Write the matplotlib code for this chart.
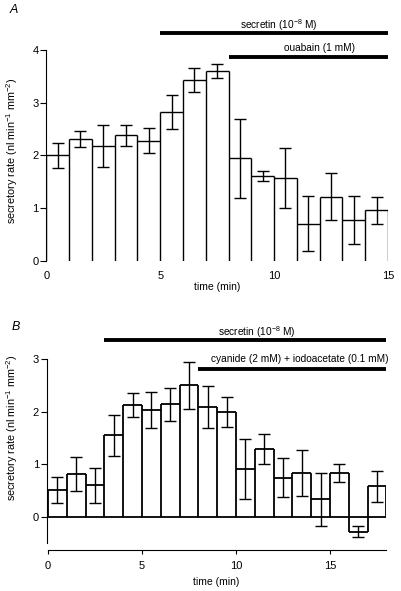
import matplotlib

matplotlib.use("Agg")
import matplotlib.pyplot as plt
import numpy as np

plt.rcParams["font.family"] = ["Liberation Sans", "DejaVu Sans"]
plt.rcParams["mathtext.fontset"] = "custom"
plt.rcParams["mathtext.rm"] = "Liberation Sans"
plt.rcParams["mathtext.it"] = "Liberation Sans:italic"

# panel A: secretin then ouabain, 1-min samples
rate_a = [2.00, 2.32, 2.18, 2.38, 2.28, 2.83, 3.43, 3.60, 1.95, 1.61,
          1.58, 0.71, 1.22, 0.78, 0.96]
sem_a = [0.23, 0.15, 0.39, 0.20, 0.24, 0.32, 0.23, 0.14, 0.75, 0.10,
         0.57, 0.53, 0.44, 0.45, 0.25]

# panel B: secretin then cyanide + iodoacetate
rate_b = [0.51, 0.81, 0.60, 1.55, 2.13, 2.03, 2.14, 2.50, 2.09, 1.99,
          0.91, 1.29, 0.74, 0.83, 0.33, 0.84, -0.28, 0.58]
sem_b = [0.24, 0.32, 0.33, 0.39, 0.23, 0.35, 0.31, 0.45, 0.40, 0.29,
         0.57, 0.28, 0.37, 0.44, 0.50, 0.17, 0.11, 0.30]

# treatment periods (start, end) in min
secretin_a = (5, 15)
ouabain_a = (8, 15)
secretin_b = (3, 18)
cyanide_b = (8, 18)

YLABEL = "secretory rate (nl min$^{-1}$ mm$^{-2}$)"


def draw_bars(ax, values, errs, lw):
    values = np.asarray(values)
    edges = np.arange(len(values) + 1)
    ax.bar(edges[:-1], values, width=1, align="edge", color="white", edgecolor="none")
    left = np.concatenate([[0], values])
    right = np.concatenate([values, [0]])
    lo = np.minimum(0, np.minimum(left, right))
    hi = np.maximum(0, np.maximum(left, right))
    ax.vlines(edges, lo, hi, color="black", lw=lw)
    ax.hlines(values, edges[:-1], edges[1:], color="black", lw=lw)
    ax.errorbar(edges[:-1] + 0.5, values, yerr=errs, fmt="none", ecolor="black",
                elinewidth=1.0, capsize=4.5, capthick=1.0)


def period(ax, span, y, label, text_x, text_y):
    ax.plot(span, [y, y], color="black", lw=2.8, solid_capstyle="butt", clip_on=False)
    ax.text(text_x, text_y, label, ha="center", va="center", fontsize=7.3)


fig = plt.figure(figsize=(4.01, 5.91), dpi=100)

# ---- panel A ----
ax_a = fig.add_axes([0.1155, 0.5584, 0.852, 0.4106])
draw_bars(ax_a, rate_a, sem_a, lw=1.0)
ax_a.set_xlim(0, 15)
ax_a.set_ylim(0, 4.6)
for side in ("top", "right", "bottom"):
    ax_a.spines[side].set_visible(False)
ax_a.spines["left"].set_bounds(0, 4)
ax_a.set_yticks([0, 1, 2, 3, 4])
ax_a.set_xticks([0, 5, 10, 15])
ax_a.tick_params(axis="y", length=4, labelsize=8, pad=1.5)
ax_a.tick_params(axis="x", length=0, labelsize=8, pad=7)
ax_a.set_xlabel("time (min)", fontsize=7.5, labelpad=1)
ax_a.set_ylabel(YLABEL, fontsize=7.8)
ax_a.yaxis.set_label_coords(-0.078, 0.455)
period(ax_a, secretin_a, 4.32, "secretin (10$^{-8}$ M)", 10.2, 4.48)
period(ax_a, ouabain_a, 3.87, "ouabain (1 mM)", 12.0, 4.03)
fig.text(0.035, 0.983, "A", fontsize=9, style="italic", ha="center", va="center")

# ---- panel B ----
ax_b = fig.add_axes([0.1165, 0.0694, 0.847, 0.3898])
draw_bars(ax_b, rate_b, sem_b, lw=1.3)
ax_b.axhline(0, color="black", lw=1.3)
ax_b.set_xlim(-0.07, 18)
ax_b.set_ylim(-0.63, 3.75)
for side in ("top", "right"):
    ax_b.spines[side].set_visible(False)
ax_b.spines["left"].set_bounds(-0.5, 3)
ax_b.spines["bottom"].set_bounds(0, 18)
ax_b.set_yticks([0, 1, 2, 3])
ax_b.set_xticks([0, 5, 10, 15])
ax_b.tick_params(axis="y", length=4, labelsize=8, pad=1.5)
ax_b.tick_params(axis="x", length=3, labelsize=8, pad=5)
ax_b.set_xlabel("time (min)", fontsize=7.5, labelpad=4.5)
ax_b.set_ylabel(YLABEL, fontsize=7.8)
ax_b.yaxis.set_label_coords(-0.078, 0.53)
period(ax_b, secretin_b, 3.37, "secretin (10$^{-8}$ M)", 11.1, 3.52)
period(ax_b, cyanide_b, 2.81, "cyanide (2 mM) + iodoacetate (0.1 mM)", 13.4, 3.0)
fig.text(0.04, 0.447, "B", fontsize=9, style="italic", ha="center", va="center")

fig.savefig("out.png", dpi=100)
plt.close(fig)
